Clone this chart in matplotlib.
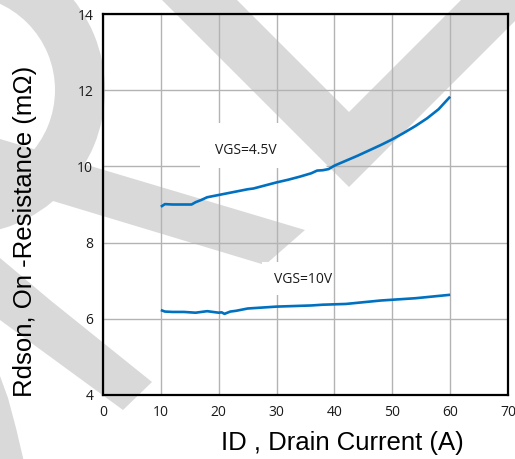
import matplotlib
matplotlib.use("Agg")
import matplotlib.pyplot as plt
from matplotlib.patches import Polygon, Wedge, Rectangle
from matplotlib.transforms import Affine2D

# ---- data ----
id_45 = [10, 10.7, 12, 14, 15.3, 16, 17, 18, 19, 20, 22, 24, 25, 26, 28, 30, 32, 34, 36, 37,
         38, 39, 40, 42, 44, 46, 48, 50, 52, 54, 56, 58, 60]
rds_45 = [8.94, 9.01, 9.00, 9.00, 9.00, 9.06, 9.12, 9.19, 9.22, 9.25, 9.31, 9.37, 9.40, 9.42,
          9.50, 9.58, 9.65, 9.73, 9.82, 9.89, 9.90, 9.93, 10.02, 10.15, 10.28, 10.42, 10.56,
          10.71, 10.88, 11.06, 11.26, 11.50, 11.83]
id_10 = [10, 10.7, 12, 14, 15, 16, 17, 18, 19, 20, 20.5, 21, 22, 23, 24, 25, 26, 28, 30, 32,
         34, 36, 38, 40, 42, 44, 46, 48, 50, 52, 54, 56, 58, 60]
rds_10 = [6.23, 6.19, 6.18, 6.18, 6.17, 6.16, 6.18, 6.20, 6.18, 6.16, 6.17, 6.13, 6.19, 6.21,
          6.24, 6.27, 6.28, 6.30, 6.32, 6.33, 6.34, 6.35, 6.37, 6.38, 6.39, 6.42, 6.45, 6.48,
          6.50, 6.52, 6.54, 6.57, 6.60, 6.63]
x_ticks = [0, 10, 20, 30, 40, 50, 60, 70]
y_ticks = [4, 6, 8, 10, 12, 14]
label_45 = "VGS=4.5V"
label_10 = "VGS=10V"

W, H = 515, 459
fig = plt.figure(figsize=(W / 100, H / 100), dpi=100)
fig.patch.set_facecolor("white")

# ---- watermark (decoration, in image pixel coordinates) ----
T = Affine2D().scale(1 / W, -1 / H).translate(0, 1) + fig.transFigure
wm = "#d9d9d9"
shapes = [
    Wedge((-40, 90), 145, 0, 360, width=50),
    Polygon([(0, 139), (305, 230), (265, 265), (0, 185)]),
    Polygon([(0, 258), (50, 300), (152, 382), (123, 410), (0, 320)]),
    Polygon([(0, 376), (8, 398), (16, 428), (24, 462), (0, 462)]),
    Polygon([(157, -5), (232, -5), (349, 112), (466, -5), (541, -5), (349, 187)]),
]
for s in shapes:
    s.set_transform(T)
    s.set_facecolor(wm)
    s.set_edgecolor("none")
    s.set_zorder(-1)
    fig.patches.append(s)

# ---- axes ----
ax = fig.add_axes([103 / W, 1 - 395 / H, (508 - 103) / W, (395 - 14) / H])
ax.set_facecolor("none")
ax.set_xlim(0, 70)
ax.set_ylim(4, 14)
ax.set_xticks(x_ticks)
ax.set_yticks(y_ticks)
tick_font = dict(family=["Open Sans", "DejaVu Sans"], size=10, color="#1a1a1a")
ax.set_xticklabels([str(v) for v in x_ticks], **tick_font)
ax.set_yticklabels([str(v) for v in y_ticks], **tick_font)
ax.tick_params(length=0, pad=7)
for sp in ax.spines.values():
    sp.set_linewidth(1.6)
    sp.set_color("black")
ax.grid(True, color="#b3b3b3", linewidth=1.0)
ax.set_axisbelow(True)

# white boxes behind the series labels (kept clear of the watermark stroke)
box1 = Polygon([(200, 123), (284, 123), (328, 168), (200, 168)], transform=T,
               facecolor="white", edgecolor="none", zorder=2)
ax.add_patch(box1)
ax.add_patch(Rectangle((27.5, 6.62), 9.9, 0.87, facecolor="white", edgecolor="none", zorder=2))

ax.plot(id_45, rds_45, color="#0070c0", linewidth=1.9, zorder=3, solid_capstyle="butt")
ax.plot(id_10, rds_10, color="#0070c0", linewidth=1.9, zorder=3, solid_capstyle="butt")

lab_font = dict(family=["Open Sans", "DejaVu Sans"], size=10, color="#1a1a1a")
ax.text(24.7, 10.43, label_45, ha="center", va="center", zorder=4, **lab_font)
ax.text(34.5, 7.02, label_10, ha="center", va="center", zorder=4, **lab_font)

# axis titles
fig.text(342 / W, 1 - 443 / H, "ID , Drain Current (A)", ha="center", va="center",
         family=["Liberation Sans", "DejaVu Sans"], size=18.5, color="black")
fig.text(25 / W, 1 - 231 / H, "Rdson, On -Resistance (mΩ)", ha="center", va="center",
         rotation=90, family=["Liberation Sans", "DejaVu Sans"], size=18.5, color="black")

fig.savefig("out.png", dpi=100)
